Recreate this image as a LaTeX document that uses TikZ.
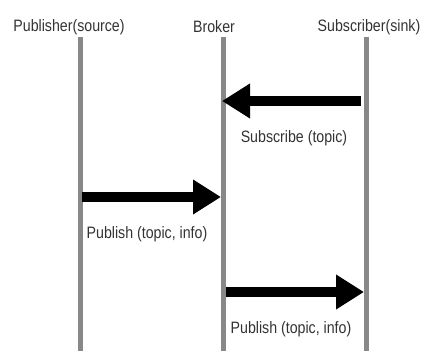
\documentclass[tikz,border=0pt]{standalone}
\usepackage{fontspec}
\setmainfont{Liberation Sans}[FakeStretch=0.86]
\usetikzlibrary{arrows.meta,positioning}
\tikzset{
    >=Stealth,
    every node/.style={inner sep=0pt}
}

\begin{document}
\begin{tikzpicture}[x=1pt,y=-1pt]
  % colours
  \definecolor{lineGray}{RGB}{136,136,136}
  \definecolor{textGray}{RGB}{51,51,51}

  % common styles
  \tikzset{
    lifeline/.style={draw=lineGray, line width=5pt},
    msg/.style={draw=black, line width=10pt,
      -{Triangle[length=28pt,width=33pt]}},
    lbl/.style={text=textGray, font=\fontsize{16.5}{18}\selectfont}
  }

  \useasboundingbox (0,0) rectangle (424,351);

  % participants
  \node[lbl] (pub) at (69,27)  {Publisher(source)};
  \node[lbl] (brk) at (214,27) {Broker};
  \node[lbl] (sub) at (369,27) {Subscriber(sink)};

  % lifelines
  \coordinate (pubTop) at (80,37);   \coordinate (pubBot) at (80,351);
  \coordinate (brkTop) at (223,37);  \coordinate (brkBot) at (223,351);
  \coordinate (subTop) at (366,37);  \coordinate (subBot) at (366,351);
  \draw[lifeline] (pubTop) -- (pubBot);
  \draw[lifeline] (brkTop) -- (brkBot);
  \draw[lifeline] (subTop) -- (subBot);

  % message end points
  \coordinate (s1) at (361,101);  \coordinate (b1) at (222,101);
  \coordinate (p2) at (82,197);   \coordinate (b2) at (221,197);
  \coordinate (b3) at (226,292);  \coordinate (s3) at (364,292);

  % messages
  \draw[msg] (s1) -- (b1);
  \node[lbl] (subMsg) at (294,138) {Subscribe (topic)};

  \draw[msg] (p2) -- (b2);
  \node[lbl] (pubMsg) at (147,234) {Publish (topic, info)};

  \draw[msg] (b3) -- (s3);
  \node[lbl] (fwdMsg) at (291,329) {Publish (topic, info)};
\end{tikzpicture}
\end{document}
